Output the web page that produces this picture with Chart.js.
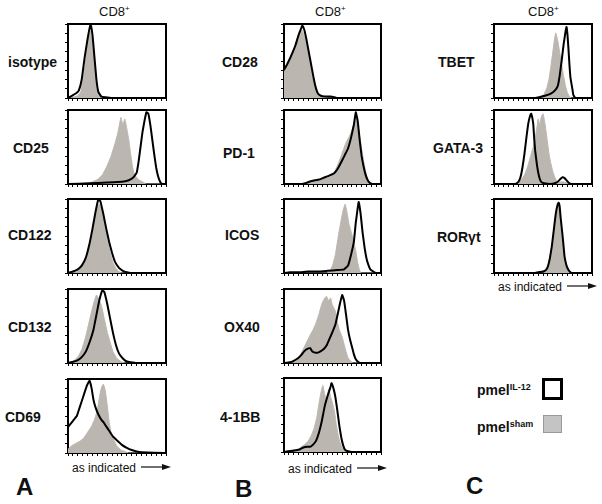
<!DOCTYPE html>
<html>
<head>
<meta charset="utf-8">
<script src="https://cdn.jsdelivr.net/npm/chart.js@4.4.1/dist/chart.umd.min.js"></script>
<style>
    body { margin: 0; background: #fff; width: 602px; height: 504px; position: relative; overflow: hidden;
           font-family: "Liberation Sans", Arial, sans-serif; color: #111; }
    .t { position: absolute; white-space: nowrap; }
    .lbl { font-weight: bold; font-size: 14px; line-height: 16px; }
    .head { font-size: 13px; line-height: 15px; }
    .head sup { font-size: 8px; vertical-align: 5px; line-height: 0; }
    .axis { font-size: 12px; line-height: 14px; }
    .letter { font-weight: bold; font-size: 24px; line-height: 24px; }
    .leg { font-weight: bold; font-size: 14px; line-height: 16px; }
    .leg sup { font-size: 9px; vertical-align: 5px; line-height: 0; }
    .box { position: absolute; box-sizing: border-box; }
    .panel { position: absolute; }
</style>
</head>
<body>
<script>
// Histogram curves, [channel (0-100), % of max]; sham = grey filled, IL12 = black line
const isotypeSham = [[0,0],[5,1],[10,3],[13,8],[16,30],[19,60],[21,80],[23,90],[25,70],[27,40],[29,15],[31,4],[33,1],[36,0],[100,0]];
const isotypeIL12 = [[0,0],[4,3],[8,6],[11,10],[14,25],[17,55],[20,80],[23,100],[25,85],[27,55],[29,25],[31,8],[34,2],[38,1],[45,0],[100,0]];
const cd25Sham = [[0,0],[20,0],[25,3],[30,6],[35,12],[40,25],[44,38],[48,55],[51,70],[54,90],[56,80],[58,88],[60,75],[62,60],[64,40],[66,22],[68,12],[72,6],[76,3],[80,0],[100,0]];
const cd25IL12 = [[0,0],[22,1],[40,2],[55,3],[62,5],[66,8],[70,15],[72,30],[74,50],[76,70],[78,85],[80,97],[82,95],[84,80],[86,60],[88,40],[90,22],[92,10],[94,3],[96,0],[100,0]];
const cd122Sham = [[0,0],[8,1],[12,5],[16,12],[20,25],[24,48],[27,70],[30,88],[32,93],[34,85],[37,65],[40,45],[43,28],[46,14],[49,6],[52,2],[55,0],[100,0]];
const cd122IL12 = [[0,0],[5,2],[10,5],[14,10],[18,20],[22,40],[25,60],[28,82],[31,100],[33,97],[36,80],[39,60],[42,42],[45,27],[48,15],[52,7],[56,3],[60,1],[64,0],[100,0]];
const cd132Sham = [[0,0],[5,2],[10,8],[14,18],[18,35],[22,58],[26,80],[29,92],[31,88],[34,78],[37,60],[40,42],[43,28],[46,15],[50,6],[54,2],[58,0],[100,0]];
const cd132IL12 = [[0,0],[6,2],[10,4],[14,8],[18,15],[22,28],[26,45],[29,65],[32,85],[35,98],[37,96],[40,80],[43,60],[46,40],[49,24],[52,13],[56,6],[60,2],[64,1],[70,0],[100,0]];
const cd69Sham = [[0,5],[4,10],[8,13],[12,16],[16,20],[20,28],[24,36],[27,45],[30,58],[32,75],[34,88],[36,93],[38,85],[40,65],[42,42],[44,28],[47,17],[50,9],[54,4],[58,2],[62,0],[100,0]];
const cd69IL12 = [[0,35],[3,40],[6,45],[9,50],[12,62],[16,78],[19,90],[22,98],[24,88],[26,72],[28,62],[31,52],[34,45],[36,42],[39,36],[42,30],[46,22],[50,17],[55,11],[60,7],[65,4],[70,2],[75,1],[100,0]];

const cd28Sham = [[0,35],[3,42],[6,52],[9,62],[12,74],[15,85],[18,92],[20,88],[23,74],[25,60],[27,45],[29,30],[31,18],[33,9],[35,5],[38,2],[42,1],[46,0],[100,0]];
const cd28IL12 = [[0,38],[3,45],[6,53],[9,62],[12,72],[15,85],[18,95],[19,98],[21,92],[23,80],[25,66],[27,52],[29,38],[31,24],[33,13],[35,6],[38,3],[42,2],[48,2],[52,1],[55,0],[100,0]];
const pd1Sham = [[0,0],[18,0],[24,2],[30,4],[36,5],[42,7],[48,10],[52,16],[56,28],[60,42],[64,56],[68,66],[71,76],[74,90],[76,80],[78,64],[80,48],[82,32],[84,18],[86,8],[88,3],[90,0],[100,0]];
const pd1IL12 = [[0,0],[18,0],[22,1],[26,3],[32,5],[36,6],[40,8],[46,11],[52,15],[56,22],[60,32],[63,40],[66,48],[69,62],[72,80],[74,97],[76,85],[78,60],[80,38],[82,24],[84,13],[86,6],[88,2],[91,0],[100,0]];
const icosSham = [[0,0],[44,0],[47,2],[50,10],[53,25],[56,50],[59,72],[61,85],[63,93],[65,82],[67,66],[70,52],[72,42],[74,30],[76,14],[78,3],[80,0],[100,0]];
const icosIL12 = [[0,0],[6,1],[15,1],[25,2],[35,2],[45,3],[55,4],[62,5],[66,10],[69,24],[72,42],[74,68],[76,88],[77,96],[79,80],[81,55],[83,35],[85,20],[87,11],[89,5],[92,2],[95,0],[100,0]];
const ox40Sham = [[0,0],[8,0],[12,3],[15,7],[18,14],[21,22],[24,30],[27,38],[30,45],[33,54],[36,66],[39,80],[42,88],[44,90],[46,84],[48,88],[50,78],[53,70],[55,55],[57,45],[60,35],[63,20],[66,7],[69,2],[71,0],[100,0]];
const ox40IL12 = [[0,0],[6,1],[10,3],[14,6],[18,11],[21,16],[24,19],[27,20],[29,16],[32,14],[35,14],[38,16],[41,19],[44,24],[47,33],[50,42],[53,52],[56,70],[58,82],[60,92],[62,84],[64,65],[66,45],[68,32],[70,22],[72,12],[74,5],[77,1],[80,0],[100,0]];
const bb41Sham = [[0,0],[10,0],[14,3],[18,7],[22,11],[25,15],[28,22],[31,32],[34,48],[36,65],[38,80],[40,90],[42,78],[44,70],[46,85],[48,75],[50,66],[52,55],[54,36],[56,22],[58,12],[60,6],[62,2],[65,0],[100,0]];
const bb41IL12 = [[0,0],[4,1],[10,2],[15,3],[20,6],[24,7],[27,7],[30,10],[33,15],[36,26],[39,42],[42,62],[45,76],[48,88],[49,93],[51,86],[53,74],[55,56],[57,36],[59,20],[61,9],[63,3],[66,1],[70,0],[100,0]];

const tbetSham = [[0,0],[44,0],[48,1],[51,5],[54,14],[56,25],[58,42],[60,62],[62,82],[63,88],[65,78],[67,62],[69,45],[71,30],[73,16],[75,7],[77,2],[79,0],[100,0]];
const tbetIL12 = [[0,0],[42,0],[46,1],[52,3],[58,6],[62,10],[65,16],[67,30],[69,50],[71,72],[73,90],[74,96],[75,85],[76,66],[77,45],[78,28],[80,12],[81,4],[83,0],[100,0]];
const gata3Sham = [[0,0],[22,0],[25,2],[28,6],[31,12],[34,22],[37,36],[40,50],[42,62],[44,78],[45,88],[47,80],[48,90],[50,95],[52,82],[54,62],[56,42],[58,28],[60,17],[62,9],[64,4],[66,2],[70,3],[73,2],[76,0],[100,0]];
const gata3IL12 = [[0,0],[22,0],[25,3],[27,9],[29,22],[31,40],[33,62],[35,82],[37,93],[38,95],[40,82],[41,62],[42,45],[44,24],[46,10],[48,3],[51,1],[58,0],[62,1],[65,3],[68,7],[70,9],[72,8],[74,5],[76,2],[79,0],[100,0]];
const rorSham = [[0,0],[50,0],[53,2],[55,8],[57,18],[59,33],[61,55],[63,78],[65,90],[66,92],[67,88],[68,72],[70,48],[71,34],[72,20],[73,10],[75,4],[77,1],[79,0],[100,0]];
const rorIL12 = [[0,0],[42,0],[45,1],[50,2],[53,4],[55,9],[57,20],[59,36],[61,58],[63,80],[65,93],[66,95],[67,90],[68,75],[70,50],[71,36],[72,22],[74,10],[76,4],[78,1],[80,0],[100,0]];

const greyFill = 'rgb(188,182,176)';

// frame positions of each histogram box and its row label
const panels = [
    { label: 'isotype', sham: isotypeSham, il12: isotypeIL12, x: 68, y: 24, w: 98, lx: 8, ly: 62 },
    { label: 'CD25', sham: cd25Sham, il12: cd25IL12, x: 68, y: 110, w: 98, lx: 13, ly: 148 },
    { label: 'CD122', sham: cd122Sham, il12: cd122IL12, x: 68, y: 199, w: 98, lx: 8, ly: 235 },
    { label: 'CD132', sham: cd132Sham, il12: cd132IL12, x: 68, y: 289, w: 98, lx: 8, ly: 327 },
    { label: 'CD69', sham: cd69Sham, il12: cd69IL12, x: 68, y: 379, w: 98, lx: 5, ly: 417 },
    { label: 'CD28', sham: cd28Sham, il12: cd28IL12, x: 284, y: 24, w: 97, lx: 222, ly: 62 },
    { label: 'PD-1', sham: pd1Sham, il12: pd1IL12, x: 284, y: 110, w: 97, lx: 223, ly: 153 },
    { label: 'ICOS', sham: icosSham, il12: icosIL12, x: 284, y: 199, w: 97, lx: 225, ly: 235 },
    { label: 'OX40', sham: ox40Sham, il12: ox40IL12, x: 284, y: 289, w: 97, lx: 224, ly: 327 },
    { label: '4-1BB', sham: bb41Sham, il12: bb41IL12, x: 284, y: 378, w: 97, lx: 220, ly: 417 },
    { label: 'TBET', sham: tbetSham, il12: tbetIL12, x: 494, y: 24, w: 98, lx: 438, ly: 62 },
    { label: 'GATA-3', sham: gata3Sham, il12: gata3IL12, x: 494, y: 110, w: 98, lx: 433, ly: 148 },
    { label: 'ROR&gamma;t', sham: rorSham, il12: rorIL12, x: 494, y: 199, w: 98, lx: 437, ly: 237 },
];
const frameH = 74;
const TICK = 3, PAD = 2;

function addText(cls, html, x, y) {
    const d = document.createElement('div');
    d.className = 't ' + cls;
    d.innerHTML = html;
    d.style.left = x + 'px';
    d.style.top = y + 'px';
    document.body.appendChild(d);
    return d;
}

function toXY(pairs) {
    return pairs.map(p => ({ x: p[0], y: p[1] }));
}

const edgeAxis = (pos) => ({
    position: pos, min: 0, max: 100,
    ticks: { display: false },
    grid: { display: false, drawTicks: false },
    border: { display: true, color: '#000', width: 2 }
});

panels.forEach(p => {
    const canvas = document.createElement('canvas');
    const cw = p.w + TICK + PAD * 2, ch = frameH + TICK + PAD * 2;
    canvas.width = cw; canvas.height = ch;
    canvas.className = 'panel';
    canvas.style.left = (p.x - TICK - PAD) + 'px';
    canvas.style.top = (p.y - PAD) + 'px';
    canvas.style.width = cw + 'px'; canvas.style.height = ch + 'px';
    document.body.appendChild(canvas);

    new Chart(canvas.getContext('2d'), {
        type: 'line',
        data: {
            datasets: [
                { data: toXY(p.il12), borderColor: '#000', borderWidth: 2, pointRadius: 0, fill: false, tension: 0.1 },
                { data: toXY(p.sham), borderColor: greyFill, backgroundColor: greyFill, borderWidth: 1, pointRadius: 0, fill: 'origin', tension: 0.1 }
            ]
        },
        options: {
            responsive: false,
            animation: false,
            layout: { padding: PAD },
            plugins: { legend: { display: false }, tooltip: { enabled: false } },
            scales: {
                x: {
                    type: 'linear', min: 0, max: 100,
                    ticks: { display: false, stepSize: 5 },
                    grid: { drawOnChartArea: false, drawTicks: true, tickLength: TICK, color: '#000' },
                    border: { color: '#000', width: 2 }
                },
                y: {
                    min: 0, max: 100,
                    ticks: { display: false, stepSize: 12.5 },
                    grid: { drawOnChartArea: false, drawTicks: true, tickLength: TICK, color: '#000' },
                    border: { color: '#000', width: 2 }
                },
                x2: Object.assign({ type: 'linear' }, edgeAxis('top')),
                y2: edgeAxis('right')
            }
        }
    });

    addText('lbl', p.label, p.lx, p.ly - 8);
});

// column headings
addText('head', 'CD8<sup>+</sup>', 99, 4);
addText('head', 'CD8<sup>+</sup>', 315, 4);
addText('head', 'CD8<sup>+</sup>', 528, 4);

// x-axis captions
const arrow = '<svg width="30" height="8" style="vertical-align:1px;margin-left:5px"><line x1="0" y1="4" x2="22" y2="4" stroke="#111" stroke-width="1.2"/><polygon points="21,1 30,4 21,7" fill="#111"/></svg>';
addText('axis', 'as indicated' + arrow, 72, 461);
addText('axis', 'as indicated' + arrow, 288, 462);
addText('axis', 'as indicated' + arrow, 498, 280);

// panel letters
addText('letter', 'A', 16, 475);
addText('letter', 'B', 235, 477);
addText('letter', 'C', 466, 474);

// legend
addText('leg', 'pmel<sup>IL-12</sup>', 477, 382);
addText('leg', 'pmel<sup>sham</sup>', 477, 419);
const b1 = document.createElement('div');
b1.className = 'box';
Object.assign(b1.style, { left: '542px', top: '378px', width: '21px', height: '22px', border: '3px solid #000', background: '#fff' });
document.body.appendChild(b1);
const b2 = document.createElement('div');
b2.className = 'box';
Object.assign(b2.style, { left: '543px', top: '415px', width: '19px', height: '18px', border: '1px solid #999', background: '#c4c4c4' });
document.body.appendChild(b2);
</script>
</body>
</html>
